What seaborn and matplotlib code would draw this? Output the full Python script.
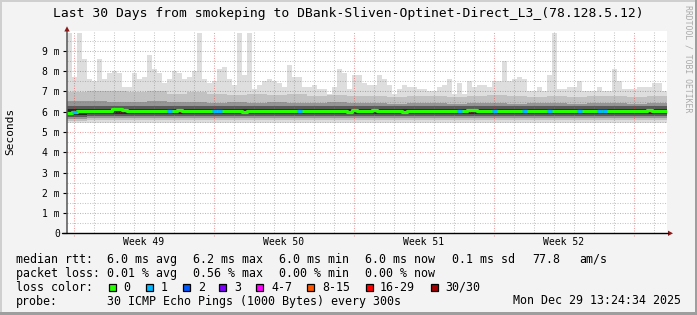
import numpy as np
import matplotlib
matplotlib.use("Agg")
import matplotlib.pyplot as plt
import seaborn as sns
from matplotlib.patches import Rectangle, Polygon

sns.set_theme(style="white")
plt.rcParams['font.family'] = ['DejaVu Sans Mono', 'DejaVu Sans']

# ---------------- data (ms) ----------------
# highest ping per quarter day (120 bins over 30 days)
smoke_max = [9.9, 7.7, 9.9, 8.6, 7.6, 7.5, 8.6, 7.6, 7.9, 8.0,
             7.9, 7.2, 7.2, 7.9, 7.6, 7.7, 8.8, 8.1, 7.9, 7.4,
             7.6, 8.0, 7.9, 7.6, 7.7, 8.0, 9.9, 7.6, 7.4, 7.5,
             8.1, 8.2, 7.6, 7.3, 9.9, 7.8, 9.9, 7.1, 7.3, 7.5,
             7.6, 7.5, 7.4, 7.2, 8.3, 7.7, 7.7, 7.2, 7.2, 7.3,
             7.1, 7.1, 6.9, 7.2, 8.1, 7.9, 7.1, 7.8, 7.8, 7.4,
             7.3, 7.3, 7.8, 7.6, 7.3, 6.9, 7.1, 7.3, 7.2, 7.2,
             7.1, 7.1, 7.0, 7.0, 7.2, 7.3, 7.6, 6.9, 7.4, 6.9,
             7.5, 7.2, 7.3, 7.3, 7.2, 7.5, 7.5, 8.5, 7.5, 7.6,
             7.7, 7.6, 7.0, 7.0, 7.2, 7.0, 7.8, 9.9, 7.1, 7.1,
             7.2, 7.2, 7.5, 7.0, 7.0, 7.0, 7.2, 7.0, 7.0, 8.1,
             7.5, 7.1, 7.1, 7.1, 7.2, 7.2, 7.2, 7.4, 7.4, 7.0]

median_rtt = [5.95, 5.98, 6.03, 6.05, 6.04, 6.05, 6.03, 6.05, 6.06, 6.12,
              6.15, 6.08, 6.05, 6.03, 6.05, 6.04, 6.06, 6.05, 6.04, 6.05,
              6.04, 6.06, 6.08, 6.06, 6.05, 6.03, 6.05, 6.05, 6.04, 6.05,
              6.05, 6.03, 6.05, 6.06, 6.05, 6.01, 6.02, 6.05, 6.04, 6.05,
              6.05, 6.03, 6.04, 6.06, 6.05, 6.04, 6.05, 6.03, 6.05, 6.06,
              6.05, 6.04, 6.03, 6.05, 6.06, 6.04, 6.01, 6.07, 6.05, 6.05,
              6.06, 6.07, 6.06, 6.05, 6.05, 6.04, 6.05, 6.01, 6.05, 6.04,
              6.05, 6.04, 6.05, 6.05, 6.04, 6.05, 6.03, 6.04, 6.05, 6.06,
              6.08, 6.07, 6.05, 6.04, 6.05, 6.04, 6.05, 6.04, 6.05, 6.05,
              6.04, 6.03, 6.04, 6.05, 6.04, 6.03, 6.05, 6.04, 6.03, 6.04,
              6.05, 6.04, 6.03, 6.04, 6.05, 6.04, 6.03, 6.04, 6.05, 6.04,
              6.04, 6.05, 6.04, 6.05, 6.04, 6.05, 6.08, 6.06, 6.05, 6.04]

loss_count = [0, 1, 0, 0, 0, 0, 0, 0, 0, 0,
              0, 0, 0, 0, 0, 0, 0, 0, 0, 0,
              1, 0, 0, 0, 0, 0, 0, 0, 0, 1,
              1, 0, 0, 0, 0, 0, 0, 0, 0, 0,
              0, 0, 0, 0, 0, 0, 1, 0, 0, 0,
              0, 0, 0, 0, 0, 0, 0, 0, 0, 0,
              0, 0, 0, 0, 0, 0, 0, 0, 0, 0,
              0, 0, 0, 0, 0, 0, 0, 0, 1, 0,
              0, 0, 0, 0, 0, 1, 0, 0, 0, 0,
              0, 1, 0, 0, 0, 0, 1, 0, 0, 0,
              0, 0, 1, 0, 0, 0, 1, 1, 0, 0,
              0, 0, 0, 0, 0, 0, 0, 0, 0, 0]

# daily smoke percentile bands
smoke_hi3 = [6.95, 7.0, 7.0, 6.95, 7.0, 6.9, 6.95, 6.9, 6.85, 6.9,
             6.85, 6.9, 6.8, 6.85, 6.8, 6.8, 6.75, 6.8, 6.8, 6.75,
             6.8, 6.85, 6.8, 6.75, 6.8, 6.75, 6.8, 6.8, 6.75, 6.8]
smoke_hi2 = [6.55, 6.55, 6.5, 6.5, 6.55, 6.5, 6.5, 6.45, 6.5, 6.45,
             6.5, 6.45, 6.45, 6.5, 6.45, 6.45, 6.4, 6.45, 6.45, 6.4,
             6.45, 6.45, 6.4, 6.45, 6.45, 6.4, 6.45, 6.45, 6.4, 6.45]
smoke_hi1 = [6.3, 6.3, 6.3, 6.28, 6.3, 6.28, 6.28, 6.27, 6.28, 6.27,
             6.28, 6.27, 6.27, 6.28, 6.27, 6.27, 6.26, 6.27, 6.27, 6.26,
             6.27, 6.27, 6.26, 6.27, 6.27, 6.26, 6.27, 6.27, 6.26, 6.27]
smoke_core_hi = [6.14, 6.14, 6.14, 6.13, 6.14, 6.13, 6.13, 6.13, 6.13, 6.13,
                 6.13, 6.13, 6.13, 6.13, 6.13, 6.13, 6.12, 6.13, 6.13, 6.12,
                 6.13, 6.13, 6.12, 6.13, 6.13, 6.12, 6.13, 6.13, 6.12, 6.13]
smoke_core_lo = [5.86, 5.87, 5.87, 5.87, 5.87, 5.87, 5.87, 5.87, 5.87, 5.87,
                 5.87, 5.87, 5.87, 5.87, 5.87, 5.87, 5.87, 5.87, 5.87, 5.87,
                 5.87, 5.87, 5.87, 5.87, 5.87, 5.87, 5.87, 5.87, 5.87, 5.87]
smoke_lo1 = [5.76, 5.77, 5.77, 5.77, 5.77, 5.77, 5.77, 5.77, 5.77, 5.77,
             5.77, 5.77, 5.77, 5.77, 5.77, 5.77, 5.77, 5.77, 5.77, 5.77,
             5.77, 5.77, 5.77, 5.77, 5.77, 5.77, 5.77, 5.77, 5.77, 5.77]
smoke_lo2 = [5.66, 5.67, 5.67, 5.67, 5.67, 5.67, 5.67, 5.67, 5.67, 5.67,
             5.67, 5.67, 5.67, 5.67, 5.67, 5.67, 5.67, 5.67, 5.67, 5.67,
             5.67, 5.67, 5.67, 5.67, 5.67, 5.67, 5.67, 5.67, 5.67, 5.67]
smoke_lo3 = [5.56, 5.57, 5.57, 5.57, 5.57, 5.57, 5.57, 5.57, 5.57, 5.57,
             5.57, 5.57, 5.57, 5.57, 5.57, 5.57, 5.57, 5.57, 5.57, 5.57,
             5.57, 5.57, 5.57, 5.57, 5.57, 5.57, 5.57, 5.57, 5.57, 5.57]
smoke_min = [5.45, 5.46, 5.46, 5.46, 5.46, 5.46, 5.46, 5.46, 5.46, 5.46,
             5.46, 5.46, 5.46, 5.46, 5.46, 5.46, 5.46, 5.46, 5.46, 5.46,
             5.46, 5.46, 5.46, 5.46, 5.46, 5.46, 5.46, 5.46, 5.46, 5.46]

y_ticks = [0, 1, 2, 3, 4, 5, 6, 7, 8, 9]
y_tick_labels = ["0", "1 m", "2 m", "3 m", "4 m", "5 m", "6 m", "7 m", "8 m", "9 m"]
week_labels = ["Week 49", "Week 50", "Week 51", "Week 52"]
loss_labels = ["0", "1", "2", "3", "4-7", "8-15", "16-29", "30/30"]
loss_colors = ["#26ff00", "#00b8ff", "#0059ff", "#7e00ff", "#ff00ff",
               "#ff5500", "#ff0000", "#a10000"]

title = "Last 30 Days from smokeping to DBank-Sliven-Optinet-Direct_L3_(78.128.5.12)"
rtt_row = [("median rtt:", 16), ("6.0 ms avg", 107.3), ("6.2 ms max", 192.7),
           ("6.0 ms min", 279.3), ("6.0 ms now", 365), ("0.1 ms sd", 451.7),
           ("77.8", 532.3), ("am/s", 579.3)]
loss_row = [("packet loss:", 16), ("0.01 % avg", 107.3), ("0.56 % max", 192.7),
            ("0.00 % min", 279.3), ("0.00 % now", 365)]
probe_row = [("probe:", 16), ("30 ICMP Echo Pings (1000 Bytes) every 300s", 107.3),
             ("Mon Dec 29 13:24:34 2025", 512.7)]

# ---------------- layout ----------------
W, H = 697, 315
def fx(px): return px / W
def fy(py): return 1 - py / H

fig = plt.figure(figsize=(W / 100, H / 100), dpi=100)
fig.patch.set_facecolor('#f3f3f3')

# frame shading
fig.add_artist(Rectangle((0, 0), fx(2), 1, transform=fig.transFigure, color='#cfcfcf', lw=0))
fig.add_artist(Rectangle((0, fy(2)), 1, 2 / H, transform=fig.transFigure, color='#cfcfcf', lw=0))
fig.add_artist(Rectangle((fx(695), 0), fx(2), 1, transform=fig.transFigure, color='#9e9e9e', lw=0))
fig.add_artist(Rectangle((0, 0), 1, 3 / H, transform=fig.transFigure, color='#9e9e9e', lw=0))

y0px, y10px = 233.3, 30.7
ax = fig.add_axes([fx(67), fy(y0px), (667 - 67) / W, (y0px - y10px) / H])
ax.set_facecolor('white')
ax.set_xlim(0, 30)
ax.set_ylim(0, 10)
for s in ax.spines.values():
    s.set_visible(False)

nq = len(smoke_max)
x_q = np.arange(nq + 1) * 30.0 / nq
def st(a):
    a = np.asarray(a, dtype=float)
    return np.append(a, a[-1])
def q(a):
    return np.repeat(np.asarray(a, dtype=float), nq // len(a))

# smoke layers
ax.fill_between(x_q, st(q(smoke_min)), st(smoke_max), step='post', color='#dedede', lw=0, zorder=1)
ax.fill_between(x_q, st(q(smoke_lo3)), st(q(smoke_hi3)), step='post', color='#c2c2c2', lw=0, zorder=1.1)
ax.fill_between(x_q, st(q(smoke_lo2)), st(q(smoke_hi2)), step='post', color='#959595', lw=0, zorder=1.2)
ax.fill_between(x_q, st(q(smoke_lo1)), st(q(smoke_hi1)), step='post', color='#5a5a5a', lw=0, zorder=1.3)
ax.fill_between(x_q, st(q(smoke_core_lo)), st(q(smoke_core_hi)), step='post', color='#262626', lw=0, zorder=1.4)

# grid
minor_c = (0.5, 0.5, 0.5, 0.45)
major_c = (0.85, 0.2, 0.2, 0.45)
dot = (0, (1.0, 1.4))
for v in np.arange(0.5, 10, 1.0):
    ax.axhline(v, color=minor_c, lw=0.75, ls=dot, zorder=3)
for v in range(1, 10):
    ax.axhline(v, color=major_c, lw=0.75, ls=dot, zorder=3)
first_major = 0.35
for k in range(30):
    xv = first_major + k
    if k % 7 == 0:
        ax.axvline(xv, ymin=-0.015, color=major_c, lw=0.75, ls=dot, zorder=3, clip_on=False)
    else:
        ax.axvline(xv, color=minor_c, lw=0.75, ls=dot, zorder=3)

# median line
sns.lineplot(x=x_q, y=st(median_rtt), drawstyle='steps-post', color=loss_colors[0],
             lw=2.3, ax=ax, zorder=5, estimator=None)
for i, l in enumerate(loss_count):
    if l > 0:
        ax.hlines(median_rtt[i], x_q[i], x_q[i + 1], color=loss_colors[1], lw=2.3, zorder=6)

# axes lines + arrows
ax.plot([0, 0], [0, 10.05], color='#555555', lw=1.1, clip_on=False, zorder=7)
fig.add_artist(matplotlib.lines.Line2D([fx(62), fx(668)], [fy(y0px), fy(y0px)],
                                       transform=fig.transFigure, color='black', lw=1.0))
fig.add_artist(Polygon([(fx(64.3), fy(31.5)), (fx(69.7), fy(31.5)), (fx(67), fy(26.3))],
                       closed=True, transform=fig.transFigure, color='#8b1a1a', lw=0))
fig.add_artist(Polygon([(fx(668), fy(230.6)), (fx(668), fy(236.0)), (fx(673), fy(233.3))],
                       closed=True, transform=fig.transFigure, color='#8b1a1a', lw=0))

# ticks
ax.set_yticks(y_ticks)
ax.set_yticklabels(y_tick_labels)
week_pos = [first_major + 3.5 + 7 * k for k in range(len(week_labels))]
ax.set_xticks(week_pos)
ax.set_xticklabels(week_labels)
ax.tick_params(axis='y', length=3.0, width=0.8, color='black', pad=2.2,
               labelsize=7.06, labelcolor='black', left=True)
ax.tick_params(axis='x', length=0, pad=2.7, labelsize=7.06, labelcolor='black')

# texts
fig.text(fx(348.5), fy(13), title, ha='center', va='center', fontsize=9.4, color='black')
fig.text(fx(10), fy(131), "Seconds", rotation=90, ha='center', va='center', fontsize=8.0, color='black')
fig.text(fx(688), fy(59), "RRDTOOL / TOBI OETIKER", rotation=270, ha='center', va='center',
         fontsize=5.9, color='#aaaaaa')

LF = 8.4
for txt, xp in rtt_row:
    fig.text(fx(xp), fy(259.3), txt, ha='left', va='center', fontsize=LF, color='black')
for txt, xp in loss_row:
    fig.text(fx(xp), fy(273.3), txt, ha='left', va='center', fontsize=LF, color='black')
fig.text(fx(16), fy(287.3), "loss color:", ha='left', va='center', fontsize=LF, color='black')
box_x = [108.7, 145.7, 182.7, 219.0, 256.0, 307.3, 365.7, 430.7]
lab_x = [123.3, 160.7, 197.7, 234.3, 271.0, 322.3, 380.0, 445.3]
for c, lab, bx, lx in zip(loss_colors, loss_labels, box_x, lab_x):
    fig.add_artist(Rectangle((fx(bx), fy(291.0)), 6.8 / W, 7.2 / H, transform=fig.transFigure,
                             facecolor=c, edgecolor='black', lw=0.9))
    fig.text(fx(lx), fy(287.3), lab, ha='left', va='center', fontsize=LF, color='black')
for txt, xp in probe_row:
    fig.text(fx(xp), fy(301), txt, ha='left', va='center', fontsize=LF, color='black')

fig.savefig("out.png", dpi=100, facecolor=fig.get_facecolor())
